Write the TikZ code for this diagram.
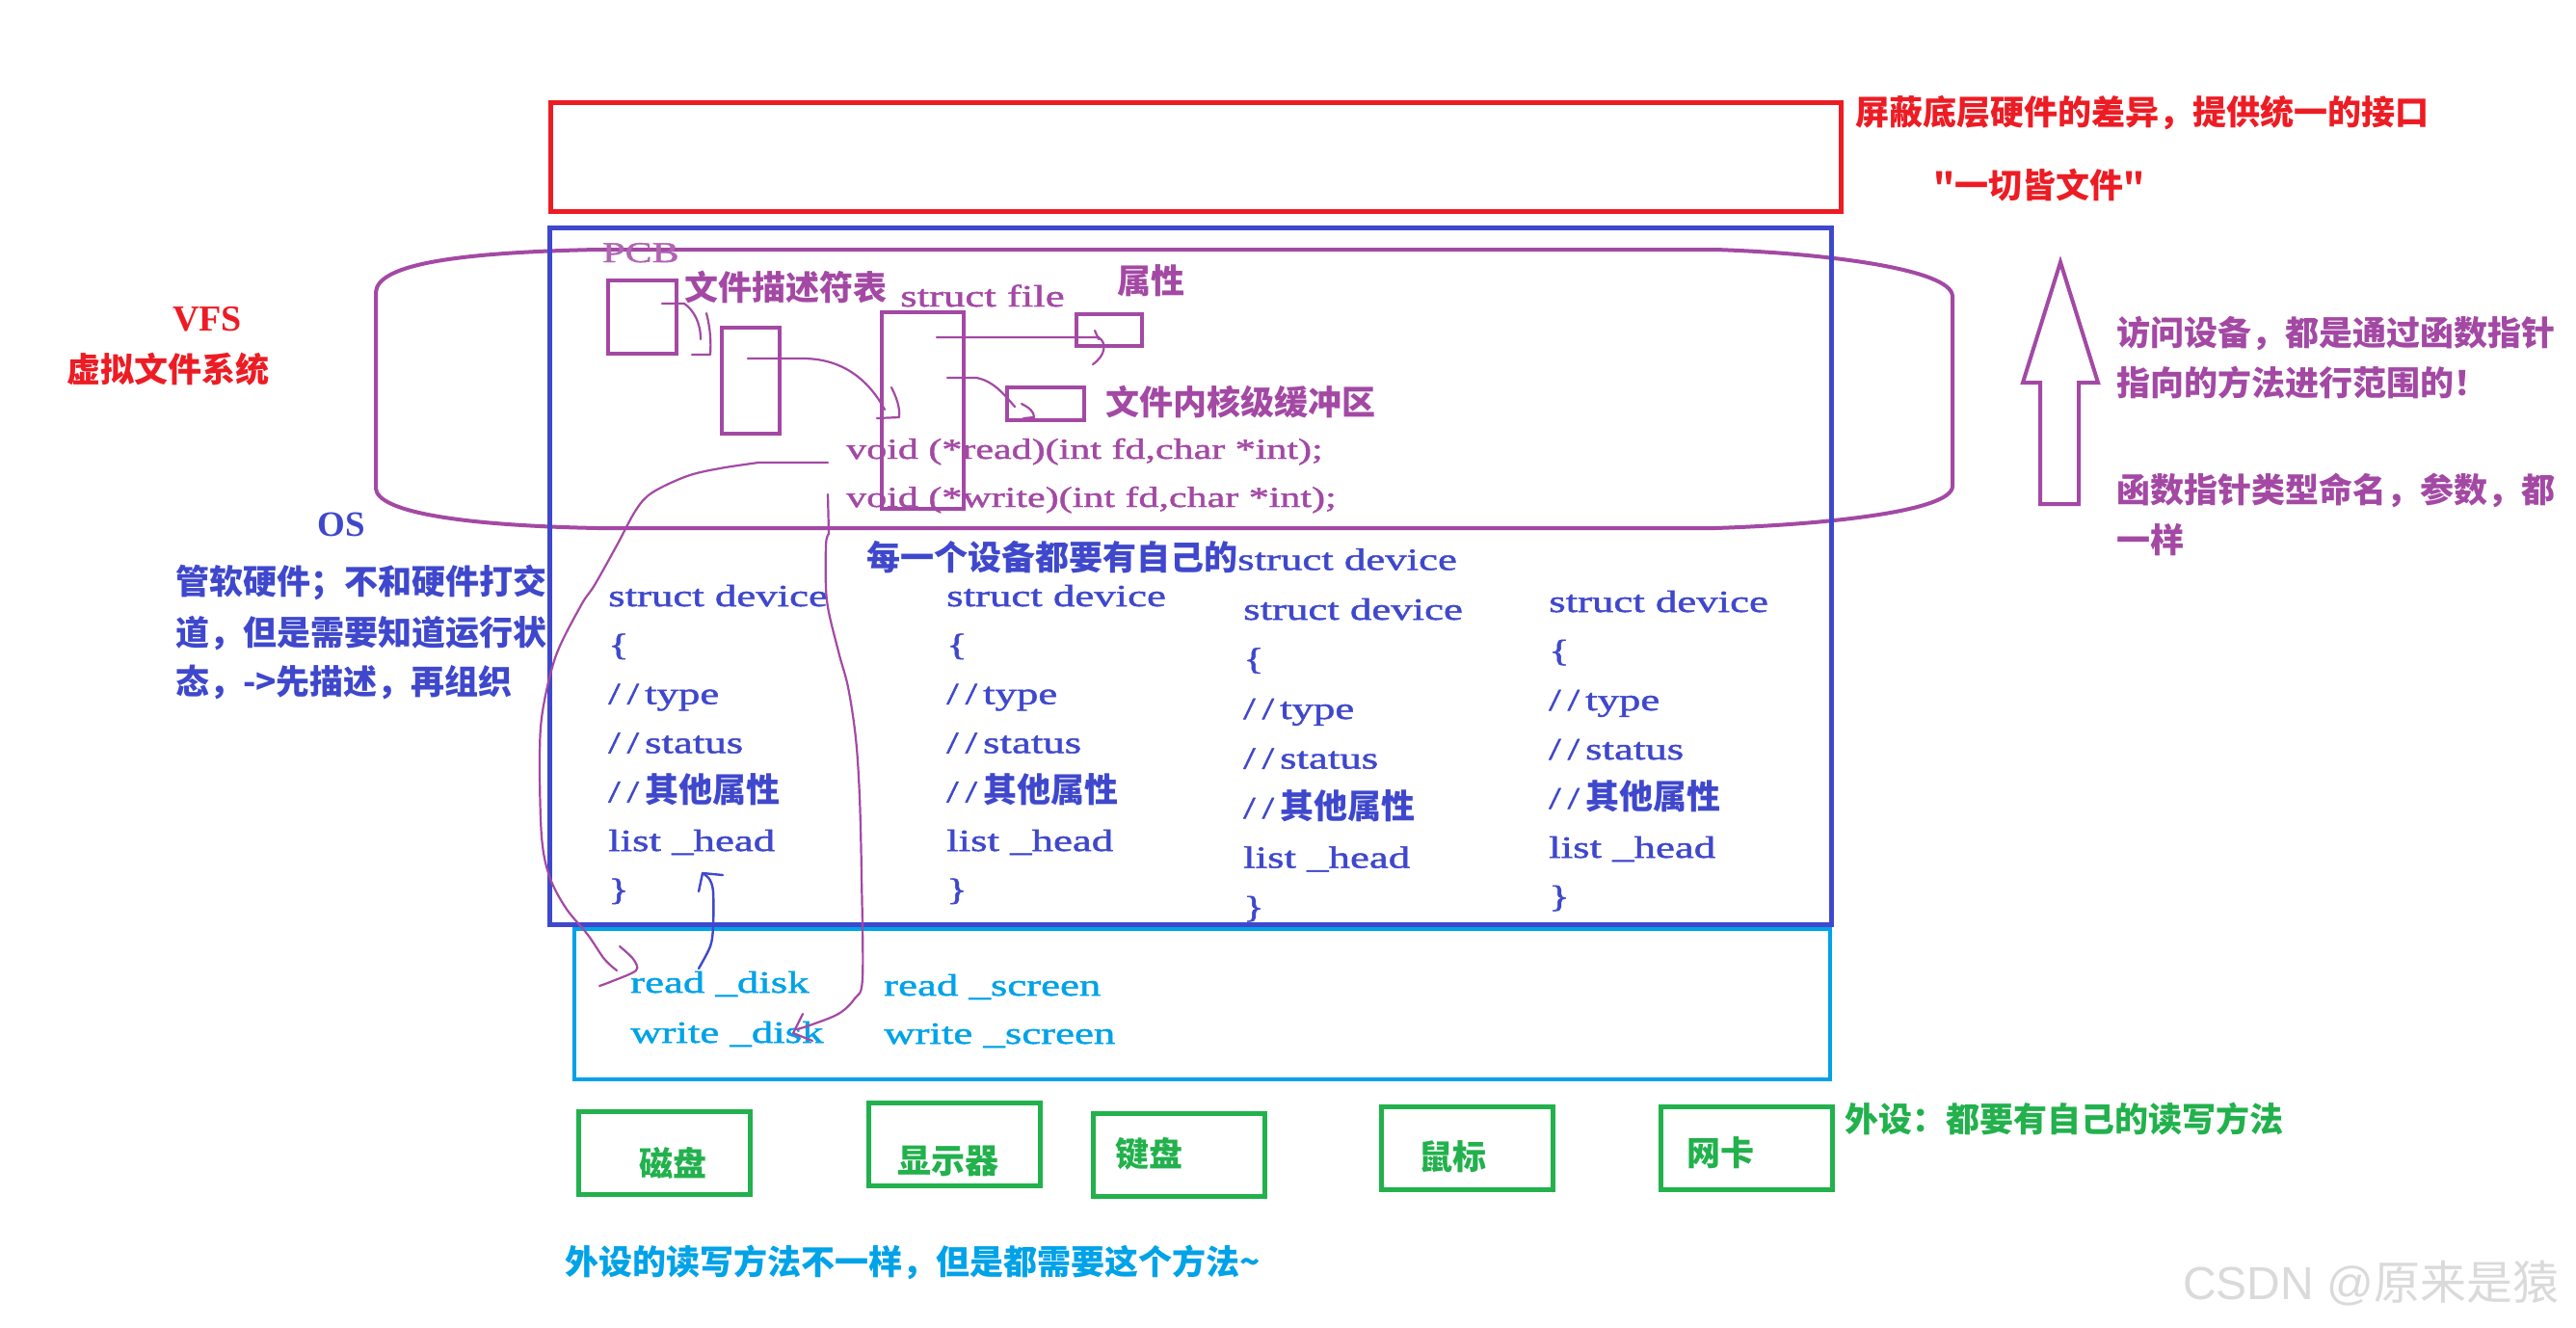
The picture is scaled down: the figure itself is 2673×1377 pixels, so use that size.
\documentclass[tikz,border=0pt]{standalone}
\usepackage{fontspec}
\setmainfont{Liberation Serif}
\newfontfamily\ser[FakeStretch=1.4,FakeBold=1.5]{Liberation Serif}
\newfontfamily\cjk{Noto Sans CJK SC}
\newfontfamily\wmfont{Liberation Sans}
\definecolor{cred}{RGB}{237,28,36}
\definecolor{cblue}{RGB}{63,72,204}
\definecolor{cpurple}{RGB}{163,73,164}
\definecolor{ccyan}{RGB}{0,162,232}
\definecolor{cgreen}{RGB}{34,177,76}
\definecolor{cwm}{RGB}{218,218,218}
\newcommand\zhc[1]{{\cjk\bfseries\fontsize{35}{38}\selectfont #1}}
\newcommand\slsl{/\kern7pt/\kern6pt}
\tikzset{
  zh/.style={font=\cjk\bfseries\fontsize{35}{40}\selectfont, inner sep=0pt, anchor=west},
  code/.style={font=\ser\fontsize{32}{38}\selectfont, inner sep=0pt, anchor=base west},
  boxp/.style={draw=cpurple, line width=4pt, inner sep=0pt},
  gbox/.style={draw=cgreen, line width=5pt, inner sep=0pt, minimum width=178pt, minimum height=86pt},
  hand/.style={draw=cpurple, line width=2.2pt, line cap=round, line join=round},
  handb/.style={draw=cblue, line width=2.4pt, line cap=round, line join=round},
}
\begin{document}
\begin{tikzpicture}[x=1pt,y=-1pt]
\useasboundingbox[fill=white] (0,0) rectangle (2673,1377);

% VFS cylinder-like outline
\draw[cpurple, line width=4pt] (390,303) .. controls (392,275) and (470,262) .. (620,259)
  -- (1780,259) .. controls (1900,263) and (2024,280) .. (2026,307)
  -- (2026,505) .. controls (2024,530) and (1900,544) .. (1780,548)
  -- (620,548) .. controls (470,545) and (392,530) .. (390,507) -- cycle;

% main frames
\node[draw=cred, line width=5pt, inner sep=0pt, minimum width=1339pt, minimum height=113pt] (iface) at (1241,163) {};
\node[draw=ccyan, line width=4pt, inner sep=0pt, minimum width=1303pt, minimum height=156pt] (drv) at (1247.5,1042) {};
\node[draw=cblue, line width=5pt, inner sep=0pt, minimum width=1330pt, minimum height=723pt] (os) at (1235.5,598) {};

% top right red texts
\node[zh, text=cred] (t1) at (1925,117) {屏蔽底层硬件的差异，提供统一的接口};
\node[zh, text=cred] (t2) at (2006,192) {"一切皆文件"};

% left texts
\node[font=\bfseries\fontsize{38}{40}\selectfont, text=cred, inner sep=0pt] (vfs) at (215,331) {VFS};
\node[zh, text=cred] (vfszh) at (69,383) {虚拟文件系统};
\node[font=\bfseries\fontsize{37}{40}\selectfont, text=cblue, inner sep=0pt] (oslbl) at (354,544) {OS};
\node[zh, text=cblue] (os1) at (182,605) {管软硬件；不和硬件打交};
\node[zh, text=cblue] (os2) at (182,657) {道，但是需要知道运行状};
\node[zh, text=cblue] (os3) at (182,708) {态，->先描述，再组织};

% inner purple structures
\node[code, font=\ser\fontsize{30}{34}\selectfont, text=cpurple!85] (pcbl) at (625,272) {PCB};
\node[boxp, minimum width=71pt, minimum height=76pt] (pcb) at (666.5,329) {};
\node[zh, text=cpurple] (fdl) at (710,298) {文件描述符表};
\node[boxp, minimum width=60pt, minimum height=110pt] (fd) at (779,395) {};
\node[code, text=cpurple] (filel) at (934,318) {struct file};
\node[boxp, minimum width=85pt, minimum height=204pt] (file) at (957.5,426) {};
\node[zh, text=cpurple] (attrl) at (1159,291) {属性};
\node[boxp, minimum width=68pt, minimum height=33pt] (attr) at (1151,342.5) {};
\node[boxp, minimum width=80pt, minimum height=34pt] (buf) at (1085,419) {};
\node[zh, text=cpurple] (bufl) at (1147,417) {文件内核级缓冲区};
\node[code, font=\ser\fontsize{30}{34}\selectfont, text=cpurple] (rdfn) at (878,476) {void (*read)(int fd,char *int);};
\node[code, font=\ser\fontsize{30}{34}\selectfont, text=cpurple] (wrfn) at (878,526) {void (*write)(int fd,char *int);};

% pointers inside VFS
\coordinate (pcbp) at (687,315);
\coordinate (fdp) at (776,372);
\coordinate (fp1) at (972,350);
\coordinate (fp2) at (983,392);
\draw[hand] (pcbp) -- (710,315) .. controls (720,322) and (727,335) .. (727,352);
\draw[hand] (733,325) .. controls (737,340) and (738,355) .. (737,368) -- (718,368);
\draw[hand] (fdp) -- (833,372) .. controls (868,372) and (898,388) .. (918,425);
\draw[hand] (925,402) .. controls (930,412) and (934,422) .. (933,433) -- (910,434);
\draw[hand] (fp1) -- (1140,350) .. controls (1149,356) and (1147,369) .. (1134,378);
\draw[hand] (1136,343) -- (1140,352);
\draw[hand] (fp2) -- (1013,392) .. controls (1030,395) and (1041,408) .. (1053,422);
\draw[hand] (1060,419) .. controls (1068,423) and (1073,427) .. (1073,433) -- (1062,434);

% struct device columns
\node[zh, text=cblue] (each) at (899,578) {每一个设备都要有自己的{\ser\mdseries\fontsize{32}{38}\selectfont struct device}};
\foreach \i/\x/\y/\s in {1/631/629/50.8, 2/982/629/50.8, 3/1290/643/51.5, 4/1607/635/51}{
  \node[code, text=cblue] (d\i a) at (\x,\y) {struct device};
  \node[code, text=cblue] (d\i b) at (\x,{\y+\s}) {\{};
  \node[code, text=cblue] (d\i c) at (\x,{\y+2*\s}) {\slsl type};
  \node[code, text=cblue] (d\i d) at (\x,{\y+3*\s}) {\slsl status};
  \node[code, text=cblue] (d\i e) at (\x,{\y+4*\s}) {\slsl\zhc{其他属性}};
  \node[code, text=cblue] (d\i f) at (\x,{\y+5*\s}) {list \_head};
  \node[code, text=cblue] (d\i g) at (\x,{\y+6*\s}) {\}};
}

% driver methods
\node[code, text=ccyan] (rdisk) at (654,1030) {read \_disk};
\node[code, text=ccyan] (wdisk) at (654,1082) {write \_disk};
\node[code, text=ccyan] (rscr) at (917,1033) {read \_screen};
\node[code, text=ccyan] (wscr) at (917,1083) {write \_screen};

% long connectors
\coordinate (rdp) at (859,480);
\coordinate (wrp) at (859,513);
\draw[hand] (rdp) -- (787,480) plot[smooth, tension=0.55] coordinates {(787,480) (747,486) (713,494) (677,511) (660,529) (640,566) (617,607) (603,628) (577,680) (563,738) (560,787) (562,868) (570,909) (587,942) (610,970) (627,995) (640,1007)};
\draw[hand] plot[smooth, tension=0.5] coordinates {(643,982) (657,995) (660,1007) (633,1019) (622,1023)};
\draw[hand] (wrp) -- (860,554) plot[smooth, tension=0.55] coordinates {(860,554) (857,566) (858,623) (870,676) (880,713) (888,766) (892,827) (894,909) (895,1015) (887,1036) (870,1052) (840,1064) (827,1068)};
\draw[hand] (833,1052) -- (823,1072) -- (843,1080);
\draw[handb] plot[smooth, tension=0.5] coordinates {(725,1005) (737,982) (740,962) (740,925) (736,912) (729,906)};
\draw[handb] (725,925) -- (729,906) -- (750,908);

% right side arrow and texts
\draw[cpurple, line width=4pt, line join=miter] (2117,523) -- (2117,397) -- (2099,397) -- (2138,272) -- (2177,397) -- (2157,397) -- (2157,523) -- cycle;
\node[zh, text=cpurple] (r1) at (2196,346) {访问设备，都是通过函数指针};
\node[zh, text=cpurple] (r2) at (2196,397) {指向的方法进行范围的！};
\node[zh, text=cpurple] (r3) at (2196,509) {函数指针类型命名，参数，都};
\node[zh, text=cpurple] (r4) at (2196,560) {一样};

% devices
\node[gbox] (disk) at (689.5,1196) {};
\node[gbox] (screen) at (990.5,1187.5) {};
\node[gbox] (kbd) at (1223,1198.5) {};
\node[gbox] (mouse) at (1522.5,1191.5) {};
\node[gbox] (nic) at (1812.5,1191.5) {};
\node[zh, anchor=center, text=cgreen] (diskl) at (698,1207) {磁盘};
\node[zh, anchor=center, text=cgreen] (screenl) at (984,1205) {显示器};
\node[zh, anchor=center, text=cgreen] (kbdl) at (1192,1197) {键盘};
\node[zh, anchor=center, text=cgreen] (mousel) at (1507,1200) {鼠标};
\node[zh, anchor=center, text=cgreen] (nicl) at (1785,1196) {网卡};
\node[zh, text=cgreen] (periph) at (1914,1161) {外设：都要有自己的读写方法};
\node[zh, text=ccyan] (bottom) at (586,1310) {外设的读写方法不一样，但是都需要这个方法\textasciitilde};

% watermark
\node[inner sep=0pt, anchor=west, text=cwm, font=\fontsize{48}{52}\selectfont] (wm) at (2265,1332) {{\wmfont CSDN @}{\cjk 原来是猿}};
\end{tikzpicture}
\end{document}
